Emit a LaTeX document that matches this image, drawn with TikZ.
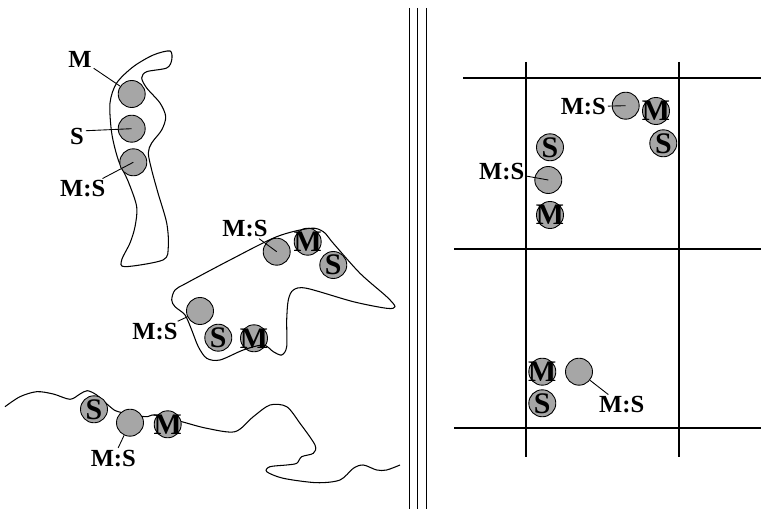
\documentclass[tikz,border=0pt]{standalone}
\usepackage{fontspec}
\setmainfont{Liberation Serif}
\usetikzlibrary{positioning}
\tikzset{
  dot/.style={circle,draw=black,fill=black!35,minimum size=0.54cm,inner sep=0pt,line width=0.5pt},
  letter/.style={font=\fontsize{17}{17}\selectfont\bfseries,inner sep=0pt},
  mdot/.style={dot,label={[letter]center:M}},
  sdot/.style={dot,label={[letter]center:S}},
  tag/.style={font=\fontsize{14}{14}\selectfont\bfseries,inner sep=1pt},
  tie/.style={draw=black,line width=0.5pt},
  outline/.style={draw=black,line width=0.6pt},
  gridline/.style={draw=black,line width=0.7pt},
}

\begin{document}
\begin{tikzpicture}[x=0.02cm,y=-0.02cm]
\useasboundingbox (0,0) rectangle (761,509);
% separator
\foreach \x in {409.3,417.7,426.3}
  \draw[line width=0.8pt] (\x,8) -- (\x,509);

% left: elongated cell
\draw[outline] plot[smooth cycle,tension=0.5] coordinates {(170,51) (171.7,60) (166.7,68)
  (146.7,71.7) (141.7,78) (146.7,88) (160,103) (165.7,116.7) (161.7,130)
  (151.7,143) (148.3,153) (151.7,170) (158,193) (166.7,223) (168.3,246.7)
  (163,260) (125,266.7) (121.7,260) (130,243) (135,226.7) (136.7,206.7)
  (128.3,181.7) (118.3,160) (111.7,133) (110,103) (116.7,83) (133.3,66.7)
  (153.3,55)};
\node[dot] (a1) at (131.7,94) {};
\node[dot] (a2) at (131.7,128.7) {};
\node[dot] (a3) at (133.3,162.3) {};
\node[tag] (ta1) at (80,59) {M};
\node[tag] (ta2) at (77,136) {S};
\node[tag] (ta3) at (82.7,189) {M:S};
\draw[tie] (ta1) -- (a1);
\draw[tie] ([yshift=3pt]ta2.east) -- (a2.center);
\draw[tie] (ta3) -- (a3.center);

% left: branched cell
\node[dot] (b1) at (276.7,251.7) {};
\node[mdot] (b2) at (307.7,241.7) {};
\node[sdot] (b3) at (333.3,265) {};
\node[dot] (b4) at (200,311) {};
\node[sdot] (b5) at (218.3,337.7) {};
\node[mdot] (b6) at (254,338.3) {};
\draw[outline] plot[smooth cycle] coordinates {(171.7,300) (175,290) (186.7,283)
  (230,260) (276.7,236.7) (310,228.3) (323.3,231.7) (333.3,243.3) (360,273.3)
  (386.7,296.7) (395,306.7) (386.7,308.3) (353.3,301.7) (306.7,288.3)
  (293.3,290) (288.3,300) (286.7,320) (286.7,346.7) (281.7,355) (273.3,351.7)
  (263.3,345) (243.3,350) (220,360) (206.7,358.3) (198.3,346.7) (191.7,330)
  (185,315) (175,306.7)};
\node[tag] (tb1) at (245,228.3) {M:S};
\node[tag] (tb4) at (155,331.7) {M:S};
\draw[tie] (tb1) -- (b1.center);
\draw[tie] (tb4) -- (b4);

% left: stretched cell
\draw[outline] plot[smooth] coordinates {(5,406.7) (20,396.7) (36.7,391.7)
  (53.3,394) (70,399.3) (80,394) (87.3,390.7) (96.7,395) (110,406.7)
  (118.3,411.7) (145,416.7) (155,415) (181.7,421.7) (206.7,428.3) (235,431.7)
  (253.3,416.7) (270,405) (286.7,406.7) (300,423.3) (315,445) (313.3,453.3)
  (301.7,456.7) (296.7,463.3) (286.7,465) (270,466.7) (266.7,471.7)
  (283.3,478.3) (316.7,482.7) (340,480) (353.3,468.3) (363.3,465) (376.7,470)
  (386.7,470) (400,465)};
\node[sdot] (d1) at (94,409.3) {};
\node[dot] (d2) at (130,422.7) {};
\node[mdot] (d3) at (167.7,424.3) {};
\node[tag] (td2) at (113.3,458.3) {M:S};
\draw[tie] (td2) -- (d2);

% right: grid
\draw[gridline] (463,78) -- (761,78);
\draw[gridline] (454,249) -- (761,249);
\draw[gridline] (454,428) -- (761,428);
\draw[gridline] (526,62) -- (526,457);
\draw[gridline] (679,62) -- (679,457);

% right: upper square
\node[dot] (e1) at (625.7,105.7) {};
\node[mdot] (e2) at (656,111) {};
\node[sdot] (e3) at (663.3,143.3) {};
\node[sdot] (e4) at (550,147.3) {};
\node[dot] (e5) at (548.3,180) {};
\node[mdot] (e6) at (550,215) {};
\node[tag] (te1) at (583.3,106.7) {M:S};
\node[tag] (te5) at (501.7,171.7) {M:S};
\draw[tie] (te1) -- (e1.center);
\draw[tie] (te5) -- (e5.center);

% right: lower square
\node[mdot] (f1) at (542.3,371.7) {};
\node[sdot] (f2) at (542.3,403.3) {};
\node[dot] (f3) at (579,371.7) {};
\node[tag] (tf3) at (621.7,405) {M:S};
\draw[tie] (f3) -- (tf3);
\end{tikzpicture}
\end{document}
